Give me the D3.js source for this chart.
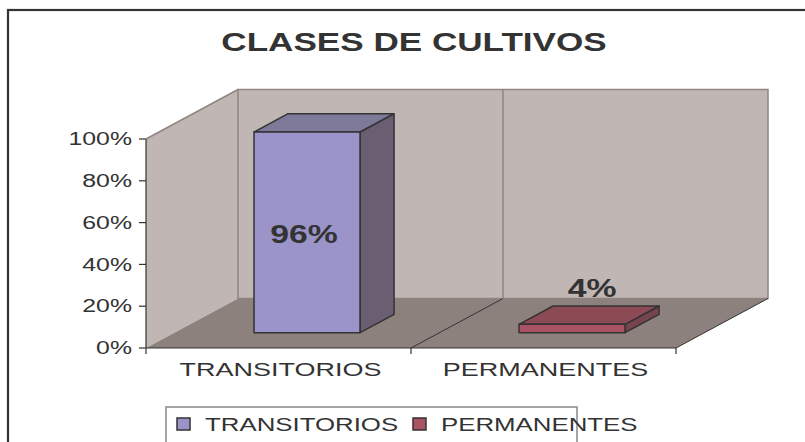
<!DOCTYPE html>
<html><head><meta charset="utf-8">
<script src="https://cdn.jsdelivr.net/npm/d3@7"></script>
<style>html,body{margin:0;padding:0;background:#fff;}svg{display:block;}</style>
</head><body>
<svg id="chart" width="805" height="442"></svg>
<script>
const title = "CLASES DE CULTIVOS";
const categories = ["TRANSITORIOS", "PERMANENTES"];
const values = [0.96, 0.04];
const valueLabels = ["96%", "4%"];
const yTicks = [0, 0.2, 0.4, 0.6, 0.8, 1.0];
const yTickLabels = ["0%", "20%", "40%", "60%", "80%", "100%"];

const svg = d3.select("#chart");
const FONT = "'Liberation Sans', Arial, sans-serif";
const SX = 1.4;
const SXB = 1.35;

const x0 = 146, x1 = 676, yBot = 348, yTop = 139;
const DX = 92, DY = -49.5;
const f1 = 0.31, f2 = 0.68;

const x = d3.scaleBand().domain(categories).range([x0, x1]);
const y = d3.scaleLinear().domain([0, 1]).range([yBot, yTop]);
const barW = x.bandwidth() / 2.5;

function stext(g, tx, ty, str, size, weight, sx, anchor, fill) {
  return g.append("text")
    .attr("transform", `translate(${tx},${ty}) scale(${sx},1)`)
    .attr("text-anchor", anchor)
    .attr("font-family", FONT)
    .attr("font-size", size)
    .attr("font-weight", weight)
    .attr("fill", fill || "#333")
    .attr("dominant-baseline", "central")
    .text(str);
}

// outer frame
svg.append("rect").attr("x", 8).attr("y", 10).attr("width", 820).attr("height", 460)
  .attr("fill", "#fff").attr("stroke", "#333").attr("stroke-width", 2.2);

// title
stext(svg, 414, 42, title, 26, "bold", 1.35, "middle", "#333");

const wallFill = "#c0b7b4", floorFill = "#8d817d", edge = "#8f8683";
const p = (px, py) => px + "," + py;

// side wall
svg.append("polygon")
  .attr("points", [p(x0, yTop), p(x0 + DX, yTop + DY), p(x0 + DX, yBot + DY), p(x0, yBot)].join(" "))
  .attr("fill", wallFill).attr("stroke", "none");
svg.append("line").attr("x1", x0).attr("y1", yTop).attr("x2", x0 + DX).attr("y2", yTop + DY)
  .attr("stroke", edge).attr("stroke-width", 1.5);
// back wall
svg.append("rect").attr("x", x0 + DX).attr("y", yTop + DY).attr("width", x1 - x0).attr("height", yBot - yTop)
  .attr("fill", wallFill).attr("stroke", edge).attr("stroke-width", 1.5);
// floor
svg.append("polygon")
  .attr("points", [p(x0, yBot), p(x0 + DX, yBot + DY), p(x1 + DX, yBot + DY), p(x1, yBot)].join(" "))
  .attr("fill", floorFill).attr("stroke", "none");
svg.append("line").attr("x1", x1).attr("y1", yBot).attr("x2", x1 + DX).attr("y2", yBot + DY)
  .attr("stroke", "#333").attr("stroke-width", 1);
// category dividers
categories.slice(1).forEach(c => {
  const bx = x(c);
  svg.append("line").attr("x1", bx).attr("y1", yBot).attr("x2", bx + DX).attr("y2", yBot + DY)
    .attr("stroke", "#333").attr("stroke-width", 1);
  svg.append("line").attr("x1", bx + DX).attr("y1", yBot + DY).attr("x2", bx + DX).attr("y2", yTop + DY)
    .attr("stroke", edge).attr("stroke-width", 1.5);
});

// axes lines
svg.append("line").attr("x1", x0).attr("y1", yTop).attr("x2", x0).attr("y2", yBot)
  .attr("stroke", "#333").attr("stroke-width", 1.2);
svg.append("line").attr("x1", x0).attr("y1", yBot).attr("x2", x1).attr("y2", yBot)
  .attr("stroke", "#333").attr("stroke-width", 1.2);

// y ticks
yTicks.forEach((v, i) => {
  svg.append("line").attr("x1", x0 - 7).attr("x2", x0).attr("y1", y(v)).attr("y2", y(v))
    .attr("stroke", "#333").attr("stroke-width", 1.2);
  stext(svg, x0 - 14, y(v), yTickLabels[i], 18, "normal", 1.38, "end", "#333");
});
// x ticks
[x0, ...categories.slice(1).map(c => x(c)), x1].forEach(tx => {
  svg.append("line").attr("x1", tx).attr("x2", tx).attr("y1", yBot).attr("y2", yBot + 6)
    .attr("stroke", "#333").attr("stroke-width", 1.2);
});
categories.forEach(c => {
  stext(svg, x(c) + x.bandwidth() / 2 + 2, 369, c, 19, "normal", 1.42, "middle", "#333");
});

// bars
const styles = [
  { front: "#9a94c8", top: "#7e7899", side: "#6a5e72" },
  { front: "#a85262", top: "#8c4a55", side: "#77434e" }
];
categories.forEach((c, i) => {
  const v = values[i];
  const bl = x(c) + (x.bandwidth() - barW) / 2 + DX * f1;
  const br = bl + barW;
  const bb = y(0) + DY * f1;
  const bt = y(v) + DY * f1;
  const ddx = DX * (f2 - f1), ddy = DY * (f2 - f1);
  const s = styles[i];
  const g = svg.append("g").attr("stroke", "#333").attr("stroke-width", 1.5).attr("stroke-linejoin", "round");
  g.append("polygon").attr("points", [p(br, bb), p(br + ddx, bb + ddy), p(br + ddx, bt + ddy), p(br, bt)].join(" "))
    .attr("fill", s.side);
  g.append("polygon").attr("points", [p(bl, bt), p(bl + ddx, bt + ddy), p(br + ddx, bt + ddy), p(br, bt)].join(" "))
    .attr("fill", s.top);
  g.append("rect").attr("x", bl).attr("y", bt).attr("width", barW).attr("height", bb - bt)
    .attr("fill", s.front);
  if (bb - bt > 40) {
    stext(svg, (bl + br) / 2 - 3, (bt + bb) / 2 + 2, valueLabels[i], 25, "bold", SXB, "middle", "#333");
  } else {
    stext(svg, (bl + br) / 2 + ddx / 2 + 3, bt + ddy - 18, valueLabels[i], 25, "bold", SXB, "middle", "#333");
  }
});

// legend
const lg = svg.append("g");
lg.append("rect").attr("x", 166).attr("y", 407).attr("width", 411).attr("height", 60)
  .attr("fill", "#fff").attr("stroke", "#888").attr("stroke-width", 1.5);
const legX = [177, 413];
categories.forEach((c, i) => {
  lg.append("rect").attr("x", legX[i]).attr("y", 418).attr("width", 13).attr("height", 12)
    .attr("fill", styles[i].front).attr("stroke", "#333").attr("stroke-width", 1.5);
  stext(lg, legX[i] + 28, 424, c, 19, "normal", 1.36, "start", "#333");
});
</script>
</body></html>
